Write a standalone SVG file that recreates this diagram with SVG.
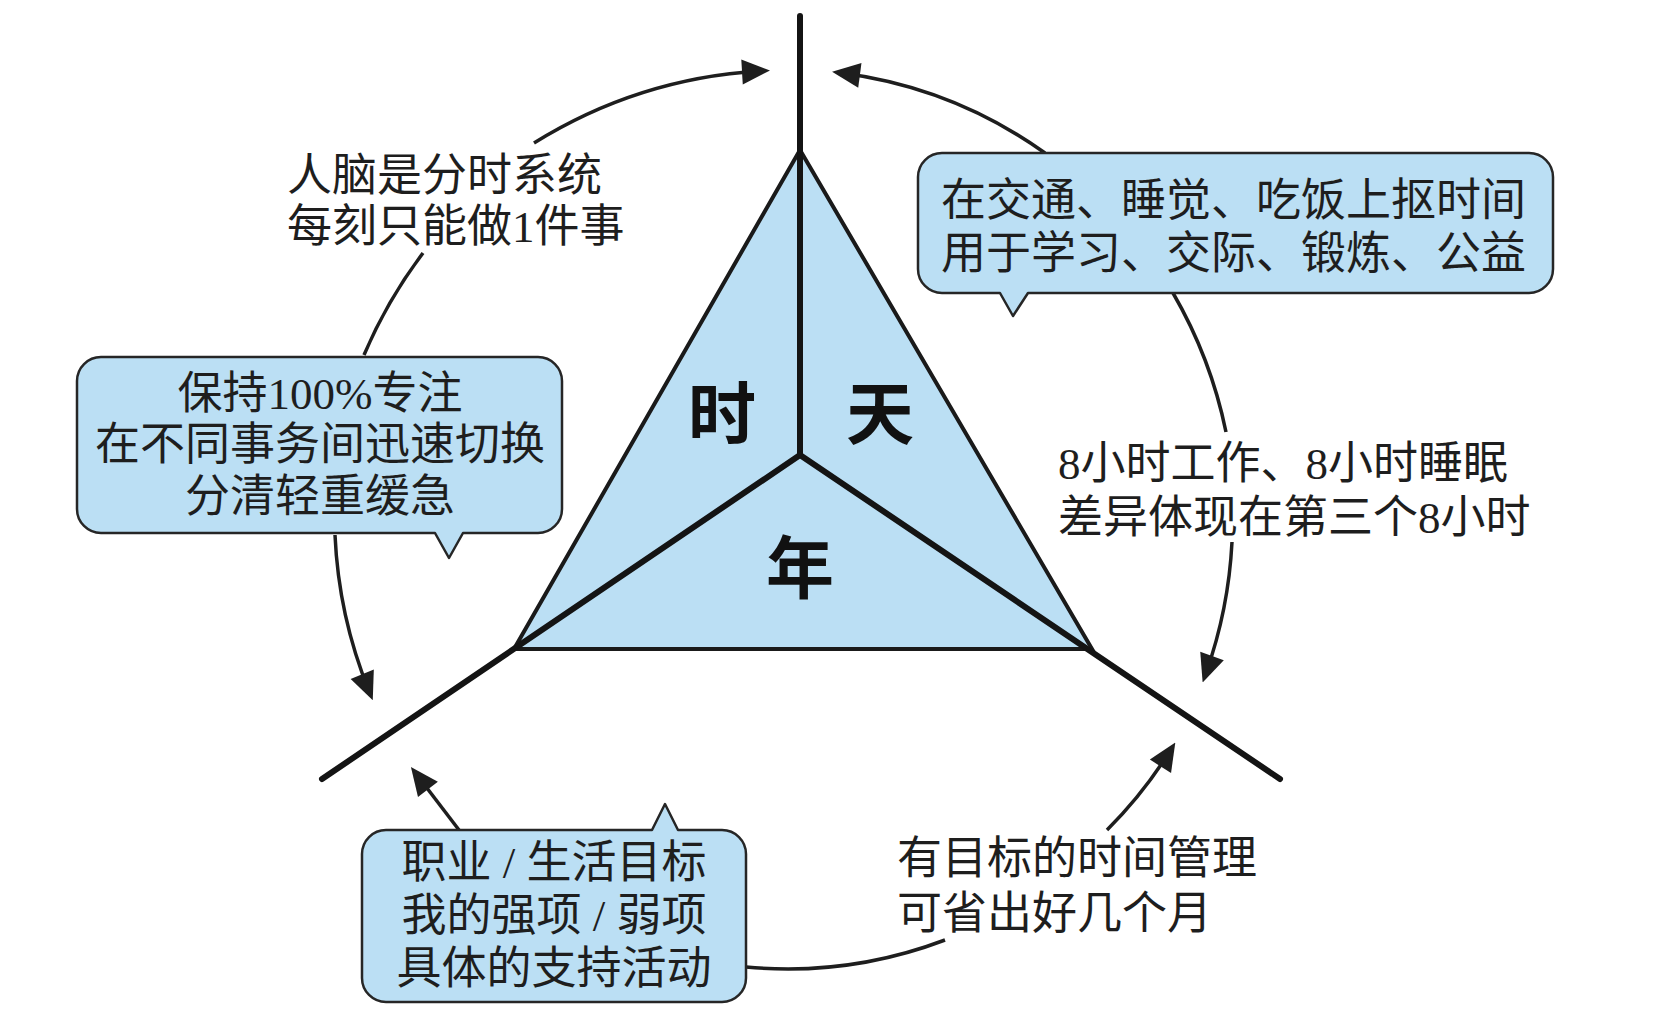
<svg xmlns="http://www.w3.org/2000/svg" width="1678" height="1016" viewBox="0 0 1678 1016">
<defs>
<style>
.t{font-family:"Liberation Serif","Noto Sans CJK SC",serif;font-size:45px;fill:#1e1e1e}
.c{text-anchor:middle}
.big{font-family:"Liberation Serif","Noto Sans CJK SC",serif;font-size:68px;font-weight:bold;fill:#111;text-anchor:middle}
.bub{fill:#bbdff4;stroke:#262626;stroke-width:2.5;stroke-linejoin:round}
.arc{fill:none;stroke:#1e1e1e;stroke-width:3.5}
.axis{stroke:#141414;stroke-width:6;stroke-linecap:round;fill:none}
</style>
<marker id="ah" viewBox="-20 -13 30 26" refX="0" refY="0" markerWidth="30" markerHeight="26" markerUnits="userSpaceOnUse" orient="auto">
<path d="M10,0 L-18,-12.5 L-18,12.5 Z" fill="#1e1e1e"/>
</marker>
</defs>
<rect width="1678" height="1016" fill="#ffffff"/>
<g id="connectors">
<path class="arc" d="M364,355 A483,483 0 0 1 423,253"/>
<path class="arc" d="M534,143 A483,483 0 0 1 760,71" marker-end="url(#ah)"/>
<path class="arc" d="M1045,153 A450,450 0 0 0 842,73" marker-end="url(#ah)"/>
<path class="arc" d="M335,535 A470,470 0 0 0 369,691" marker-end="url(#ah)"/>
<path class="arc" d="M1173,293 A461,461 0 0 1 1226,432"/>
<path class="arc" d="M1232,542 A461,461 0 0 1 1206,673" marker-end="url(#ah)"/>
<path class="arc" d="M746,967 A445,445 0 0 0 945,940"/>
<path class="arc" d="M1107,830 A445,445 0 0 0 1170,751" marker-end="url(#ah)"/>
<path class="arc" d="M459,830 L417,775" marker-end="url(#ah)"/>
</g>
<g id="triangle">
<path d="M800,150 L1092,649 L514,649 Z" fill="#bbdff4" stroke="#1a1a1a" stroke-width="4" stroke-linejoin="miter"/>
<path class="axis" d="M800,16 L800,455"/>
<path class="axis" d="M800,455 L322,779"/>
<path class="axis" d="M800,455 L1280,779"/>
</g>
<g id="label-shi"><text class="big" x="722" y="439">时</text></g>
<g id="label-tian"><text class="big" x="880" y="439">天</text></g>
<g id="label-nian"><text class="big" x="800" y="593">年</text></g>
<g id="note-brain">
<text class="t" x="287" y="191">人脑是分时系统</text>
<text class="t" x="287" y="242">每刻只能做1件事</text>
</g>
<g id="bubble-focus">
<path class="bub" d="M101,357 H538 A24,24 0 0 1 562,381 V509 A24,24 0 0 1 538,533 H463 L449,558 L435,533 H101 A24,24 0 0 1 77,509 V381 A24,24 0 0 1 101,357 Z"/>
<text class="t c" x="320" y="409">保持100%专注</text>
<text class="t c" x="320" y="460">在不同事务间迅速切换</text>
<text class="t c" x="320" y="512">分清轻重缓急</text>
</g>
<g id="bubble-time">
<path class="bub" d="M942,153 H1529 A24,24 0 0 1 1553,177 V269 A24,24 0 0 1 1529,293 H1028 L1013,316 L1000,293 H942 A24,24 0 0 1 918,269 V177 A24,24 0 0 1 942,153 Z"/>
<text class="t" x="941" y="216">在交通、睡觉、吃饭上抠时间</text>
<text class="t" x="941" y="269">用于学习、交际、锻炼、公益</text>
</g>
<g id="note-8h">
<text class="t" x="1058" y="479">8小时工作、8小时睡眠</text>
<text class="t" x="1058" y="533">差异体现在第三个8小时</text>
</g>
<g id="bubble-goals">
<path class="bub" d="M386,830 H652 L665,804 L678,830 H722 A24,24 0 0 1 746,854 V978 A24,24 0 0 1 722,1002 H386 A24,24 0 0 1 362,978 V854 A24,24 0 0 1 386,830 Z"/>
<text class="t c" x="554" y="878">职业 / 生活目标</text>
<text class="t c" x="554" y="931">我的强项 / 弱项</text>
<text class="t c" x="554" y="984">具体的支持活动</text>
</g>
<g id="note-goal-mgmt">
<text class="t" x="897" y="874">有目标的时间管理</text>
<text class="t" x="897" y="929">可省出好几个月</text>
</g>
</svg>
